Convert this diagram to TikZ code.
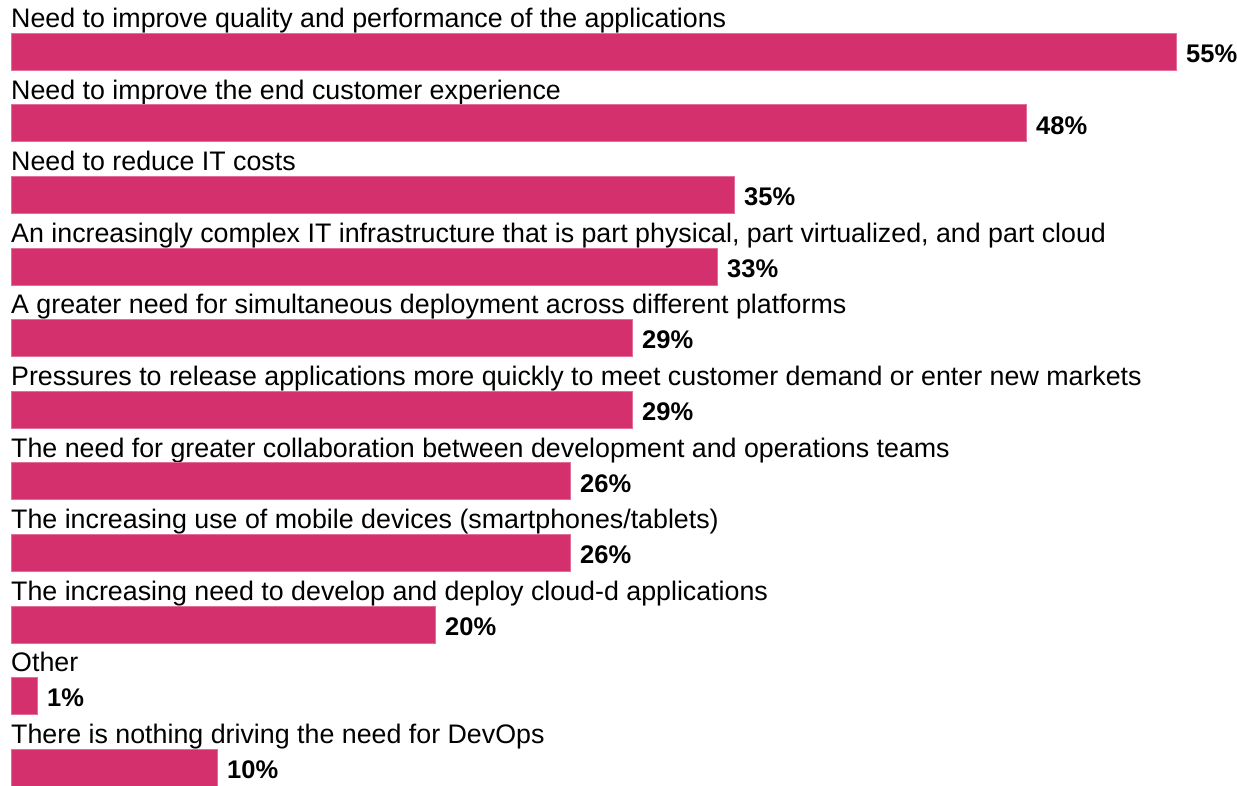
\documentclass[tikz,border=0pt]{standalone}
\usepackage{fontspec}
\setmainfont{Liberation Sans}
\definecolor{barc}{RGB}{213,48,110}
\begin{document}
\begin{tikzpicture}[x=1pt,y=-1pt,
  lbl/.style={anchor=base west,inner sep=0pt,font=\fontsize{26.8}{30}\selectfont},
  pct/.style={anchor=base west,inner sep=0pt,font=\fontsize{25.5}{29}\selectfont\bfseries},
  barstyle/.style={fill=barc,draw=barc!70!white,line width=0.6pt}]
\useasboundingbox (0,0) rectangle (1237,785);
\foreach \i/\r/\p/\t in {
 0/1176/55\%/{Need to improve quality and performance of the applications},
 1/1026/48\%/{Need to improve the end customer experience},
 2/734/35\%/{Need to reduce IT costs},
 3/717/33\%/{An increasingly complex IT infrastructure that is part physical, part virtualized, and part cloud},
 4/632/29\%/{A greater need for simultaneous deployment across different platforms},
 5/632/29\%/{Pressures to release applications more quickly to meet customer demand or enter new markets},
 6/570/26\%/{The need for greater collaboration between development and operations teams},
 7/570/26\%/{The increasing use of mobile devices (smartphones/tablets)},
 8/435/20\%/{The increasing need to develop and deploy cloud-d applications},
 9/37/1\%/{Other},
 10/217/10\%/{There is nothing driving the need for DevOps}}{
  \pgfmathsetmacro{\top}{33+71.6*\i}
  \pgfmathsetmacro{\bot}{\top+37}
  \node[lbl] (l\i) at (11,\top-5.5) {\t};
  \draw[barstyle] (11,\top) rectangle (\r,\bot);
  \node[pct] (p\i) at (\r+10,\bot-7.5) {\p};
}
\end{tikzpicture}
\end{document}
